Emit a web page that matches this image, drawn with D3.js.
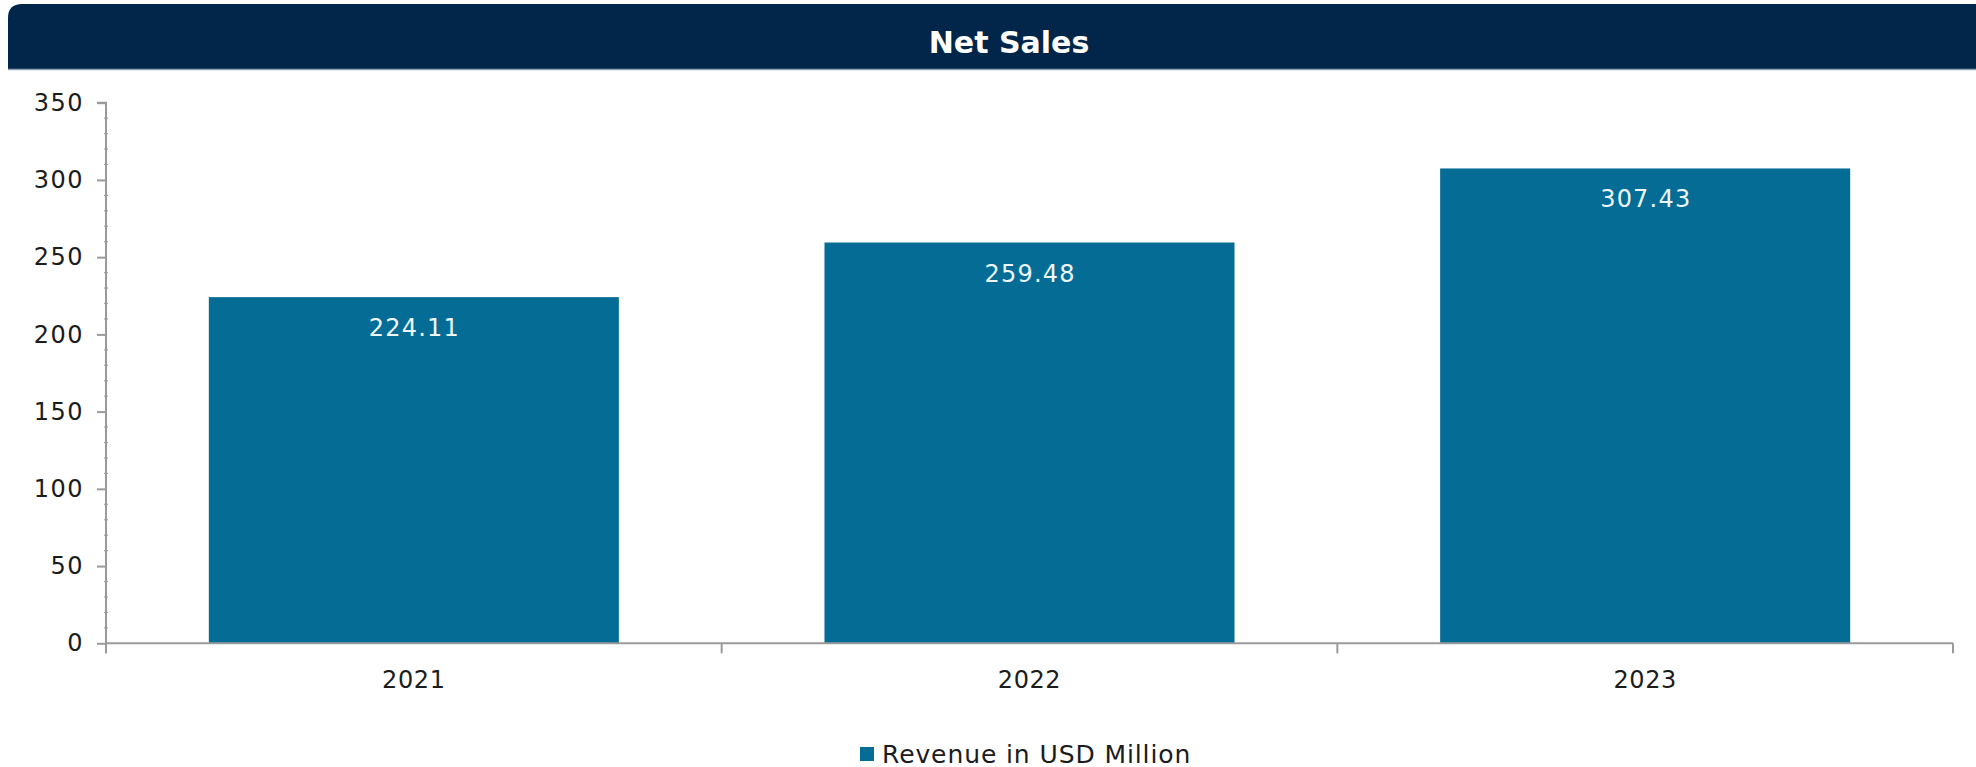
<!DOCTYPE html>
<html>
<head>
<meta charset="utf-8">
<script src="https://cdn.jsdelivr.net/npm/d3@7"></script>
<style>
  html, body { margin: 0; padding: 0; background: #ffffff; }
  svg { display: block; }
  text { font-family: "DejaVu Sans", Verdana, sans-serif; }
</style>
</head>
<body>
<svg id="chart" width="1976" height="767"></svg>
<script>
// Net sales by year (USD million)
const years = ["2021", "2022", "2023"];
const revenue = [224.11, 259.48, 307.43];
const yTicks = [0, 50, 100, 150, 200, 250, 300, 350];
const seriesName = "Revenue in USD Million";
const chartTitle = "Net Sales";

const W = 1976, H = 767;
const plot = { left: 106, right: 1953, top: 102.7, bottom: 643.3 };
const barColor = "#046c95";
const axisColor = "#9a9a9a";
const labelColor = "#1c1c1c";

const svg = d3.select("#chart");

// Title banner with a rounded top-left corner
const bx = 8, by = 4, bh = 65, r = 14;
svg.append("path")
  .attr("d", `M${bx},${by + bh} L${bx},${by + r} Q${bx},${by} ${bx + r},${by} L${W},${by} L${W},${by + bh} Z`)
  .attr("fill", "#022649");
svg.append("line")
  .attr("x1", bx).attr("x2", W)
  .attr("y1", by + bh + 0.5).attr("y2", by + bh + 0.5)
  .attr("stroke", "#8ea3b9").attr("stroke-width", 1.5);
svg.append("text")
  .attr("x", 1009).attr("y", 53)
  .attr("text-anchor", "middle")
  .attr("fill", "#ffffff")
  .attr("font-size", 30).attr("font-weight", "bold")
  .text(chartTitle);

// Scales
const x = d3.scaleBand().domain(years).range([plot.left, plot.right]).padding(0);
const y = d3.scaleLinear().domain([0, 350]).range([plot.bottom, plot.top]);
const barW = x.bandwidth() * 0.666;
const rows = years.map((d, i) => ({ year: d, value: revenue[i] }));

// Bars
svg.append("g").selectAll("rect")
  .data(rows)
  .join("rect")
  .attr("x", d => x(d.year) + (x.bandwidth() - barW) / 2)
  .attr("y", d => y(d.value))
  .attr("width", barW)
  .attr("height", d => y(0) - y(d.value))
  .attr("fill", barColor);

// Value labels inside the bars
svg.append("g").selectAll("text")
  .data(rows)
  .join("text")
  .attr("x", d => x(d.year) + x.bandwidth() / 2 + 0.6)
  .attr("y", d => y(d.value) + 39)
  .attr("text-anchor", "middle")
  .attr("fill", "#eef6fa")
  .attr("font-size", 24)
  .attr("letter-spacing", 1.2)
  .text(d => d.value.toFixed(2));

// Y axis: minor ticks every 10
const minor = d3.range(0, 351, 10).filter(v => v % 50 !== 0);
svg.append("g")
  .selectAll("line")
  .data(minor)
  .join("line")
  .attr("x1", plot.left - 2).attr("x2", plot.left + 2)
  .attr("y1", d => y(d)).attr("y2", d => y(d))
  .attr("stroke", "#a6a6a6").attr("stroke-width", 1.2);

const yAxis = svg.append("g")
  .attr("transform", `translate(${plot.left},0)`)
  .call(d3.axisLeft(y).tickValues(yTicks).tickSize(9).tickPadding(13).tickFormat(d3.format("d")));
yAxis.select(".domain").attr("stroke", axisColor).attr("stroke-width", 2)
  .attr("d", `M-9,${y(350)}H0V${y(0) + 10}`);
yAxis.selectAll(".tick line").attr("stroke", axisColor).attr("stroke-width", 2);
yAxis.selectAll(".tick text").attr("font-size", 24).attr("fill", labelColor)
  .attr("letter-spacing", 1.5)
  .attr("font-family", "DejaVu Sans, Verdana, sans-serif");

// X axis: category labels centred, tick marks at band edges
const xAxis = svg.append("g")
  .attr("transform", `translate(0,${plot.bottom})`)
  .call(d3.axisBottom(x).tickSize(0).tickPadding(28));
xAxis.select(".domain").attr("stroke", axisColor).attr("stroke-width", 2)
  .attr("d", `M${plot.left},0H${plot.right}`);
xAxis.selectAll(".tick text").attr("font-size", 24).attr("fill", labelColor)
  .attr("letter-spacing", 0.6)
  .attr("font-family", "DejaVu Sans, Verdana, sans-serif");

const edges = years.map(d => x(d)).concat([x(years[years.length - 1]) + x.bandwidth()]);
svg.append("g").selectAll("line")
  .data(edges)
  .join("line")
  .attr("x1", d => d).attr("x2", d => d)
  .attr("y1", plot.bottom).attr("y2", plot.bottom + 10)
  .attr("stroke", axisColor).attr("stroke-width", 2);

// Legend
const lg = svg.append("g").attr("transform", "translate(860,747)");
lg.append("rect").attr("width", 14).attr("height", 14).attr("fill", barColor);
lg.append("text").attr("x", 22).attr("y", 15.5)
  .attr("font-size", 25).attr("fill", labelColor)
  .attr("letter-spacing", 0.9)
  .text(seriesName);
</script>
</body>
</html>
